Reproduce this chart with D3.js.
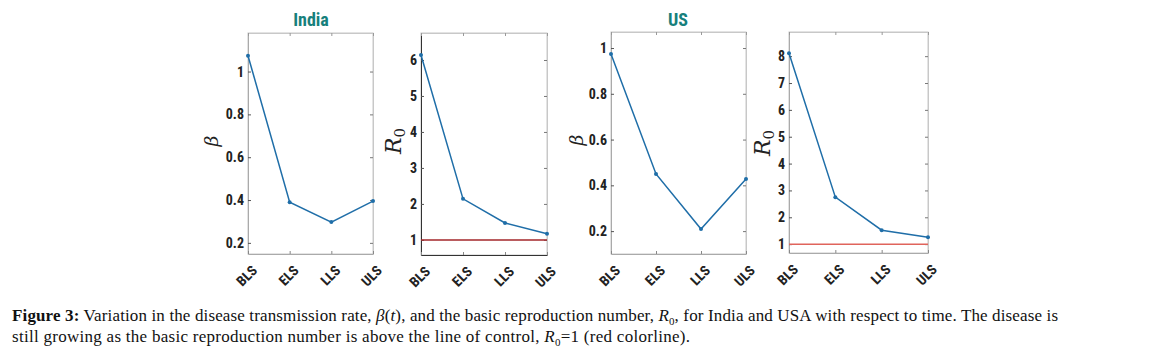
<!DOCTYPE html>
<html><head><meta charset="utf-8">
<script src="https://cdn.jsdelivr.net/npm/d3@7"></script>
<style>body{margin:0;background:#fff;} svg{display:block;}</style>
</head><body>
<svg id="c" width="1154" height="358"></svg>
<script>
const categories = ["BLS","ELS","LLS","ULS"];
const indiaBeta = [1.074, 0.39, 0.297, 0.395];
const indiaR0 = [6.14, 2.14, 1.47, 1.17];
const usBeta = [0.974, 0.45, 0.209, 0.428];
const usR0 = [8.11, 2.75, 1.52, 1.26];
const betaTicks = [0.2, 0.4, 0.6, 0.8, 1];
const r0TicksIndia = [1, 2, 3, 4, 5, 6];
const r0TicksUS = [1, 2, 3, 4, 5, 6, 7, 8];
const controlValue = 1;
const titles = ["India", "US"];

const svg = d3.select("#c");
const tickFont = "'Liberation Sans Narrow','Roboto Condensed','Liberation Sans',Arial,sans-serif";

const panels = [
  {x0:248, x1:373, y0:33, y1:254, dom:[0.148,1.18], vals:indiaBeta, ticks:betaTicks, label:"beta", lx:218, ly:141, axisCol:"#aaa", fmt:d3.format("~g")},
  {x0:421, x1:547, y0:33, y1:255, dom:[0.58,6.75], vals:indiaR0, ticks:r0TicksIndia, label:"R0", lx:401, ly:141, axisCol:"#333", ctrl:"#a3262a", fmt:d3.format("d")},
  {x0:611, x1:746, y0:32, y1:254, dom:[0.1,1.07], vals:usBeta, ticks:betaTicks, label:"beta", lx:583, ly:140, axisCol:"#aaa", fmt:d3.format("~g")},
  {x0:789, x1:928, y0:32, y1:253, dom:[0.67,8.9], vals:usR0, ticks:r0TicksUS, label:"R0", lx:770, ly:143, axisCol:"#aaa", ctrl:"#e0645c", fmt:d3.format("d")}
];

panels.forEach(p => {
  const x = d3.scalePoint().domain(categories).range([p.x0, p.x1]);
  const y = d3.scaleLinear().domain(p.dom).range([p.y1, p.y0]);
  const g = svg.append("g");
  g.append("rect").attr("x", p.x0).attr("y", p.y0).attr("width", p.x1-p.x0).attr("height", p.y1-p.y0)
    .attr("fill","none").attr("stroke","#c8c8c8").attr("stroke-width",1);
  const ya = g.append("g").attr("transform",`translate(${p.x0},0)`)
    .call(d3.axisLeft(y).tickValues(p.ticks).tickFormat(p.fmt).tickSizeInner(-3).tickSizeOuter(0).tickPadding(4));
  ya.select(".domain").attr("stroke", p.axisCol);
  ya.selectAll(".tick line").attr("stroke","#555");
  ya.selectAll("text").attr("font-family",tickFont).attr("font-weight","bold").attr("font-size","14px").attr("fill","#222");
  const yr = g.append("g").attr("transform",`translate(${p.x1},0)`)
    .call(d3.axisRight(y).tickValues(p.ticks).tickFormat("").tickSizeInner(-3).tickSizeOuter(0));
  yr.select(".domain").attr("stroke","#c8c8c8");
  yr.selectAll(".tick line").attr("stroke","#777");
  const xt = g.append("g").attr("transform",`translate(0,${p.y0})`)
    .call(d3.axisTop(x).tickFormat("").tickSizeInner(-3).tickSizeOuter(0));
  xt.select(".domain").attr("stroke","#c8c8c8");
  xt.selectAll(".tick line").attr("stroke","#999");
  const xb = g.append("g").attr("transform",`translate(0,${p.y1})`)
    .call(d3.axisBottom(x).tickSizeInner(-3).tickSizeOuter(0).tickPadding(0));
  xb.select(".domain").attr("stroke", p.axisCol);
  xb.selectAll(".tick line").attr("stroke","#888");
  xb.selectAll("text")
    .attr("font-family",tickFont).attr("font-weight","bold").attr("font-size","14px").attr("fill","#222")
    .attr("text-anchor","end").attr("dy","0.35em")
    .attr("transform","translate(6,14) rotate(-45)");
  if (p.ctrl) {
    g.append("line").attr("x1",p.x0).attr("x2",p.x1).attr("y1",y(controlValue)).attr("y2",y(controlValue))
      .attr("stroke",p.ctrl).attr("stroke-width",1.5);
  }
  const line = d3.line().x((d,i)=>x(categories[i])).y(d=>y(d));
  g.append("path").datum(p.vals).attr("d",line).attr("fill","none").attr("stroke","#1f6ea8").attr("stroke-width",1.5);
  g.selectAll("circle.pt").data(p.vals).enter().append("circle")
    .attr("cx",(d,i)=>x(categories[i])).attr("cy",d=>y(d)).attr("r",2).attr("fill","#1f6ea8");
  const lab = g.append("text").attr("transform",`translate(${p.lx},${p.ly}) rotate(-90)`)
    .attr("text-anchor","middle").attr("font-family","'DejaVu Serif','Liberation Serif',serif")
    .attr("font-style","italic").attr("font-size", p.label === "beta" ? "19px" : "22px").attr("fill","#222");
  if (p.label === "beta") {
    lab.text("β");
  } else {
    lab.append("tspan").text("R");
    lab.append("tspan").attr("font-size","15px").attr("dy","4").attr("font-style","normal").text("0");
  }
});

svg.append("text").attr("x",311).attr("y",26).attr("text-anchor","middle")
  .attr("font-family",tickFont).attr("font-weight","bold").attr("font-size","18px").attr("fill","#17807c").text(titles[0]);
svg.append("text").attr("x",678).attr("y",26).attr("text-anchor","middle")
  .attr("font-family",tickFont).attr("font-weight","bold").attr("font-size","18px").attr("fill","#17807c").text(titles[1]);

const capFont = "'Liberation Serif','DejaVu Serif',serif";
const c1 = svg.append("text").attr("x",12).attr("y",321).attr("font-family",capFont).attr("font-size","17px").attr("fill","#111")
  .attr("textLength",1046).attr("lengthAdjust","spacing");
c1.append("tspan").attr("font-weight","bold").text("Figure 3:");
c1.append("tspan").text(" Variation in the disease transmission rate, ");
c1.append("tspan").attr("font-style","italic").text("β");
c1.append("tspan").text("(");
c1.append("tspan").attr("font-style","italic").text("t");
c1.append("tspan").text("), and the basic reproduction number, ");
c1.append("tspan").attr("font-style","italic").text("R");
c1.append("tspan").attr("font-size","11px").attr("dy","4").text("0");
c1.append("tspan").attr("dy","-4").text(", for India and USA with respect to time. The disease is");

const c2 = svg.append("text").attr("x",12).attr("y",342).attr("font-family",capFont).attr("font-size","17px").attr("fill","#111")
  .attr("textLength",678).attr("lengthAdjust","spacing");
c2.append("tspan").text("still growing as the basic reproduction number is above the line of control, ");
c2.append("tspan").attr("font-style","italic").text("R");
c2.append("tspan").attr("font-size","11px").attr("dy","4").text("0");
c2.append("tspan").attr("dy","-4").text("=1 (red colorline).");
</script>
</body></html>
